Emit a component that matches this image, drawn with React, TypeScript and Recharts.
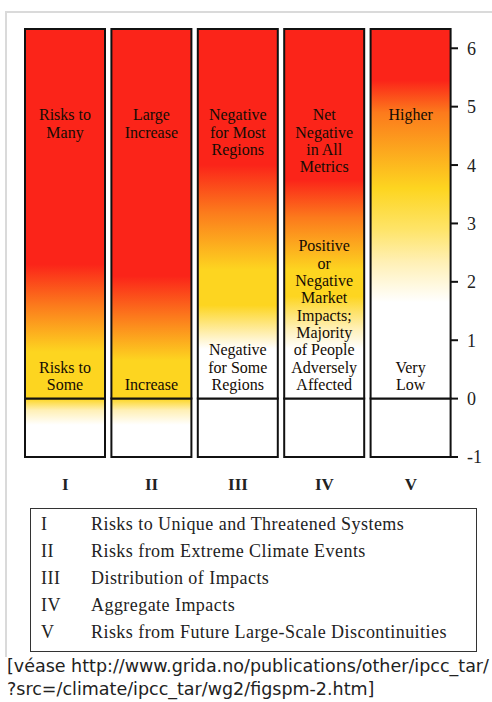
import { BarChart, Bar, XAxis, YAxis, Cell, LabelList } from "recharts";

const categories = ["I", "II", "III", "IV", "V"];
const baseValues = [-1, -1, -1, -1, -1];
const topValues = [6.33, 6.33, 6.33, 6.33, 6.33];
const upperLabels = [
  "Risks to\nMany",
  "Large\nIncrease",
  "Negative\nfor Most\nRegions",
  "Net\nNegative\nin All\nMetrics",
  "Higher",
];
const lowerLabels = [
  "Risks to\nSome",
  "Increase",
  "Negative\nfor Some\nRegions",
  "Positive\nor\nNegative\nMarket\nImpacts;\nMajority\nof People\nAdversely\nAffected",
  "Very\nLow",
];
const yTicks = [-1, 0, 1, 2, 3, 4, 5, 6];
const legendNumerals = ["I", "II", "III", "IV", "V"];
const legendNames = [
  "Risks to Unique and Threatened Systems",
  "Risks from Extreme Climate Events",
  "Distribution of Impacts",
  "Aggregate Impacts",
  "Risks from Future Large-Scale Discontinuities",
];
const captionLines = [
  "[véase http://www.grida.no/publications/other/ipcc_tar/",
  "?src=/climate/ipcc_tar/wg2/figspm-2.htm]",
];

// colour ramps (value on the y scale -> colour), one per column
const RED = "#fb2419";
const ORANGE = "#fc7a1c";
const YELLOW = "#fdd520";
const PALE = "#fff0b6";
const WHITE = "#ffffff";
const ramps: [number, string][][] = [
  [[6.33, RED], [2.3, RED], [1.6, ORANGE], [0.8, YELLOW], [0, YELLOW], [-0.2, PALE], [-0.45, WHITE], [-1, WHITE]],
  [[6.33, RED], [2.1, RED], [1.4, ORANGE], [0.65, YELLOW], [0, YELLOW], [-0.2, PALE], [-0.45, WHITE], [-1, WHITE]],
  [[6.33, RED], [4.0, RED], [3.2, ORANGE], [2.2, YELLOW], [1.6, YELLOW], [1.1, PALE], [0.85, WHITE], [0, WHITE], [-1, WHITE]],
  [[6.33, RED], [3.75, RED], [3.1, ORANGE], [2.2, YELLOW], [1.75, YELLOW], [1.2, PALE], [0.85, WHITE], [0, WHITE], [-1, WHITE]],
  [[6.33, RED], [5.45, RED], [4.9, ORANGE], [3.6, YELLOW], [2.9, "#fee468"], [2.33, PALE], [1.65, WHITE], [0, WHITE], [-1, WHITE]],
];

const data = categories.map((name, i) => ({
  name,
  base: baseValues[i],
  top: topValues[i],
  upper: upperLabels[i],
  lower: lowerLabels[i],
}));

const SERIF = "'Liberation Serif', 'Times New Roman', serif";
const LABEL_SIZE = 16;
const LINE = 17.3;

function segmentStops(ramp: [number, string][], lo: number, hi: number) {
  return ramp
    .filter(([v]) => v >= lo && v <= hi)
    .map(([v, c]) => ({ offset: (hi - v) / (hi - lo), color: c }));
}

function UpperLabel(props: any) {
  const { x, y, width, value } = props;
  const cx = Number(x) + Number(width) / 2;
  const lines = String(value).split("\n");
  return (
    <text textAnchor="middle" fontFamily={SERIF} fontSize={LABEL_SIZE} fill="#140c04">
      {lines.map((l, k) => (
        <tspan key={k} x={cx} y={Number(y) + 86 + k * LINE + LABEL_SIZE * 0.33}>
          {l}
        </tspan>
      ))}
    </text>
  );
}

function LowerLabel(props: any) {
  const { x, y, width, height, value } = props;
  const cx = Number(x) + Number(width) / 2;
  const bottom = Number(y) + Number(height);
  const lines = String(value).split("\n");
  const first = bottom - 14 - (lines.length - 1) * LINE;
  return (
    <text textAnchor="middle" fontFamily={SERIF} fontSize={LABEL_SIZE} fill="#140c04">
      {lines.map((l, k) => (
        <tspan key={k} x={cx} y={first + k * LINE + LABEL_SIZE * 0.33}>
          {l}
        </tspan>
      ))}
    </text>
  );
}

function RightTick(props: any) {
  const { x, y, payload } = props;
  return (
    <g>
      <line x1={x - 15} x2={x - 8} y1={y} y2={y} stroke="#111" strokeWidth={2} />
      <text x={x + 1} y={y} dy="0.36em" fontFamily={SERIF} fontSize={18} fill="#222">
        {payload.value}
      </text>
    </g>
  );
}

export default function App() {
  return (
    <div
      style={{
        position: "absolute",
        left: 0,
        top: 0,
        width: 492,
        height: 702,
        background: "#fff",
        overflow: "hidden",
      }}
    >
      <div
        style={{
          position: "absolute",
          left: 5,
          top: 11,
          width: 487,
          height: 644,
          borderTop: "2px solid #dadada",
          borderLeft: "2px solid #dadada",
        }}
      />
      <div style={{ position: "absolute", left: 0, top: 0 }}>
        <BarChart
          width={492}
          height={500}
          data={data}
          stackOffset="sign"
          barSize={80}
          margin={{ top: 29, right: 8, left: 22, bottom: 0 }}
        >
          <defs>
            {ramps.map((ramp, i) => (
              <linearGradient key={`up-${i}`} id={`up-${i}`} x1="0" y1="0" x2="0" y2="1">
                {segmentStops(ramp, 0, topValues[i]).map((s, k) => (
                  <stop key={k} offset={s.offset} stopColor={s.color} />
                ))}
              </linearGradient>
            ))}
            {ramps.map((ramp, i) => (
              <linearGradient key={`lo-${i}`} id={`lo-${i}`} x1="0" y1="0" x2="0" y2="1">
                {segmentStops(ramp, baseValues[i], 0).map((s, k) => (
                  <stop key={k} offset={s.offset} stopColor={s.color} />
                ))}
              </linearGradient>
            ))}
          </defs>
          <XAxis
            dataKey="name"
            axisLine={false}
            tickLine={false}
            tickSize={0}
            tickMargin={21}
            height={43}
            tick={{ fontFamily: SERIF, fontSize: 17, fontWeight: "bold", fill: "#222" }}
          />
          <YAxis
            orientation="right"
            width={30}
            domain={[-1, 6.33]}
            ticks={yTicks}
            axisLine={false}
            tickLine={false}
            tickSize={6}
            tickMargin={6}
            tick={<RightTick />}
          />
          <Bar dataKey="base" stackId="s" stroke="#111" strokeWidth={2} isAnimationActive={false}>
            {data.map((d, i) => (
              <Cell key={d.name} fill={`url(#lo-${i})`} />
            ))}
          </Bar>
          <Bar dataKey="top" stackId="s" stroke="#111" strokeWidth={2} isAnimationActive={false}>
            {data.map((d, i) => (
              <Cell key={d.name} fill={`url(#up-${i})`} />
            ))}
            <LabelList dataKey="upper" content={<UpperLabel />} />
            <LabelList dataKey="lower" content={<LowerLabel />} />
          </Bar>
        </BarChart>
      </div>
      <div
        style={{
          position: "absolute",
          left: 30,
          top: 508,
          width: 445,
          height: 142,
          border: "1.5px solid #333",
          fontFamily: SERIF,
          fontSize: 18,
          letterSpacing: 0.45,
          color: "#222",
        }}
      >
        {legendNames.map((n, i) => (
          <div
            key={n}
            style={{
              position: "absolute",
              left: 0,
              top: 4 + i * 27,
              height: 22,
              lineHeight: "22px",
              whiteSpace: "nowrap",
            }}
          >
            <span style={{ position: "absolute", left: 10 }}>{legendNumerals[i]}</span>
            <span style={{ position: "absolute", left: 60 }}>{n}</span>
          </div>
        ))}
      </div>
      <div
        style={{
          position: "absolute",
          left: 7,
          top: 655,
          fontFamily: "'DejaVu Sans', Verdana, sans-serif",
          fontSize: 17.5,
          lineHeight: "23px",
          color: "#222",
          whiteSpace: "nowrap",
        }}
      >
        {captionLines.map((l) => (
          <div key={l}>{l}</div>
        ))}
      </div>
    </div>
  );
}
